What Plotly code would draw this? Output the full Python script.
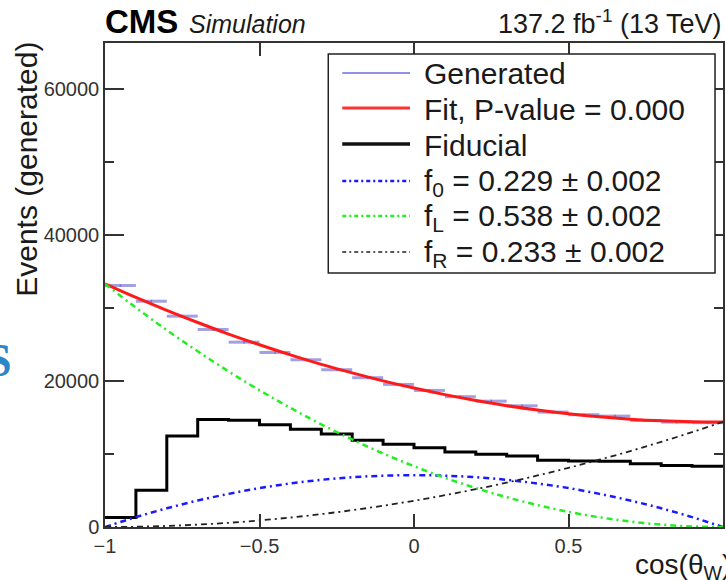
import plotly.graph_objects as go

# ---------------- data ----------------
bin_edges = [-1.0, -0.9, -0.8, -0.7, -0.6, -0.5, -0.4, -0.3, -0.2, -0.1, 0.0,
             0.1, 0.2, 0.3, 0.4, 0.5, 0.6, 0.7, 0.8, 0.9, 1.0]
generated = [33080, 30930, 28880, 27060, 25320, 23910, 22910, 21540, 20450, 19530,
             18710, 17850, 17240, 16600, 15740, 15380, 15190, 14600, 14370, 14290]
generated_err = [180] * 20
fiducial = [1290, 5020, 12450, 14740, 14640, 14010, 13400, 12730, 11870, 11320,
            10860, 10260, 9950, 9720, 9130, 9030, 8990, 8680, 8440, 8310]

curve_x = [-1.0, -0.9, -0.8, -0.7, -0.6, -0.5, -0.4, -0.3, -0.2, -0.1, 0.0,
           0.1, 0.2, 0.3, 0.4, 0.5, 0.6, 0.7, 0.8, 0.9, 1.0]
fit_total = [33300, 31440, 29670, 28010, 26430, 24960, 23580, 22280, 21110, 20020,
             19030, 18130, 17330, 16620, 16020, 15510, 15090, 14770, 14550, 14430, 14400]
f0_curve = [0, 1350, 2560, 3620, 4540, 5330, 5960, 6460, 6820, 7030,
            7100, 7030, 6820, 6460, 5960, 5330, 4540, 3620, 2560, 1350, 0]
fL_curve = [33300, 30050, 26970, 24070, 21310, 18730, 16320, 14060, 11990, 10070,
            8330, 6740, 5330, 4080, 3000, 2080, 1330, 750, 330, 80, 0]
fR_curve = [0, 36, 144, 324, 576, 900, 1296, 1764, 2304, 2916,
            3600, 4356, 5184, 6084, 7056, 8100, 9216, 10404, 11664, 12996, 14400]

x_ticks = [-1, -0.5, 0, 0.5, 1]
x_ticktext = ["\u22121", "\u22120.5", "0", "0.5", "1"]
y_ticks = [0, 20000, 40000, 60000]
y_ticktext = ["0", "20000", "40000", "60000"]

legend_labels = ["Generated", "Fit, P-value = 0.000", "Fiducial",
                 "f<sub>0</sub> = 0.229 \u00b1 0.002",
                 "f<sub>L</sub> = 0.538 \u00b1 0.002",
                 "f<sub>R</sub> = 0.233 \u00b1 0.002"]

# ---------------- layout geometry (pixels) ----------------
W, H = 726, 580
L, R, T, B = 105, 725, 43, 527
FONT = "Liberation Sans, Arial, Helvetica, sans-serif"

def xp(px):
    return (px - L) / (R - L)

def yp(py):
    return (B - py) / (B - T)

centers = [(a + b) / 2 for a, b in zip(bin_edges[:-1], bin_edges[1:])]
halfw = [(b - a) / 2 for a, b in zip(bin_edges[:-1], bin_edges[1:])]

GEN_COL = "rgba(120,120,215,0.7)"
DASHDOT = "6px,4px,2px,4px"

fig = go.Figure()

# generated: horizontal bin segments with small stat error ticks
fig.add_trace(go.Scatter(
    x=centers, y=generated, mode="markers", name="Generated", showlegend=False,
    marker=dict(size=0.1, color=GEN_COL),
    error_x=dict(type="data", array=halfw, symmetric=True, color=GEN_COL, thickness=3, width=0),
    error_y=dict(type="data", array=generated_err, symmetric=True, color="rgba(60,60,200,0.8)", thickness=1.5, width=0),
))

# fiducial: step histogram
fig.add_trace(go.Scatter(
    x=bin_edges, y=fiducial + [fiducial[-1]], mode="lines", name="Fiducial", showlegend=False,
    line=dict(color="black", width=3, shape="hv"),
))

# fit and components
fig.add_trace(go.Scatter(
    x=curve_x, y=fit_total, mode="lines", name="Fit", showlegend=False,
    line=dict(color="#ff1a1a", width=3, shape="spline", smoothing=1.0),
))
fig.add_trace(go.Scatter(
    x=curve_x, y=f0_curve, mode="lines", name="f0", showlegend=False,
    line=dict(color="#1a1aff", width=2.5, dash=DASHDOT, shape="spline", smoothing=1.0),
))
fig.add_trace(go.Scatter(
    x=curve_x, y=fL_curve, mode="lines", name="fL", showlegend=False,
    line=dict(color="#22ee22", width=2.5, dash=DASHDOT, shape="spline", smoothing=1.0),
))
fig.add_trace(go.Scatter(
    x=curve_x, y=fR_curve, mode="lines", name="fR", showlegend=False,
    line=dict(color="#222222", width=1.8, dash=DASHDOT, shape="spline", smoothing=1.0),
))

# ---------------- manual legend (ROOT style) ----------------
shapes = []
annotations = []
shapes.append(dict(type="rect", xref="paper", yref="paper",
                   x0=xp(329), x1=xp(717), y0=yp(273), y1=yp(54),
                   line=dict(color="#222", width=1.5), fillcolor="white", layer="above"))
leg_styles = [
    dict(color="rgb(110,110,220)", width=1.5),
    dict(color="#ff3333", width=3),
    dict(color="#111", width=3.5),
    dict(color="#1a1aff", width=2.5, dash="4px,3px,2px,3px"),
    dict(color="#22ee22", width=2.5, dash="4px,3px,2px,3px"),
    dict(color="#222", width=1.5, dash="4px,3px,2px,3px"),
]
row_y = [73, 108, 144, 181, 216, 252]
for lab, st, ry in zip(legend_labels, leg_styles, row_y):
    shapes.append(dict(type="line", xref="paper", yref="paper",
                       x0=xp(343), x1=xp(411), y0=yp(ry), y1=yp(ry), line=st, layer="above"))
    annotations.append(dict(xref="paper", yref="paper", x=xp(423), y=yp(ry + 1),
                            xanchor="left", yanchor="middle", text=lab, showarrow=False,
                            font=dict(family=FONT, size=30, color="#1a1a1a")))

# titles
annotations += [
    dict(xref="paper", yref="paper", x=xp(103), y=yp(21), xanchor="left", yanchor="middle",
         text="<b>CMS</b>", showarrow=False, font=dict(family=FONT, size=33, color="black")),
    dict(xref="paper", yref="paper", x=xp(187), y=yp(24), xanchor="left", yanchor="middle",
         text="<i>Simulation</i>", showarrow=False, font=dict(family=FONT, size=25, color="#1a1a1a")),
    dict(xref="paper", yref="paper", x=xp(725), y=yp(22), xanchor="right", yanchor="middle",
         text="137.2 fb<sup>-1</sup> (13 TeV)", showarrow=False, font=dict(family=FONT, size=27, color="#1a1a1a")),
    dict(xref="paper", yref="paper", x=xp(26), y=yp(40), xanchor="center", yanchor="top",
         text="Events (generated)", textangle=-90, showarrow=False,
         font=dict(family=FONT, size=30, color="#1a1a1a")),
    dict(xref="paper", yref="paper", x=xp(735), y=yp(566), xanchor="right", yanchor="middle",
         text="cos(\u03b8<sub>W</sub>)", showarrow=False, font=dict(family=FONT, size=28, color="#1a1a1a")),
    dict(xref="paper", yref="paper", x=xp(14), y=yp(360), xanchor="right", yanchor="middle",
         text="<b>S</b>", showarrow=False,
         font=dict(family="Liberation Serif, Times New Roman, serif", size=46, color="#2a86c9")),
]

axis_common = dict(showline=True, linecolor="#333", linewidth=1.5, mirror="ticks",
                   ticks="inside", tickcolor="#333", tickwidth=1.5, showgrid=False, zeroline=False,
                   tickfont=dict(family=FONT, size=20, color="#333"))

fig.update_layout(
    width=W, height=H,
    margin=dict(l=L, r=W - R, t=T, b=H - B, pad=0),
    paper_bgcolor="white", plot_bgcolor="white",
    showlegend=False,
    xaxis=dict(range=[-1, 1], tickvals=x_ticks, ticktext=x_ticktext, ticklen=13, **axis_common),
    yaxis=dict(range=[0, 66300], tickvals=y_ticks, ticktext=y_ticktext, ticklen=19,
               minor=dict(ticks="inside", dtick=10000, ticklen=9, tickcolor="#333", tickwidth=1.5),
               **axis_common),
    shapes=shapes, annotations=annotations,
)

fig.write_html("out.html", config={"displayModeBar": False},
               post_script="document.body.style.margin='0px';document.body.style.overflow='hidden';")
